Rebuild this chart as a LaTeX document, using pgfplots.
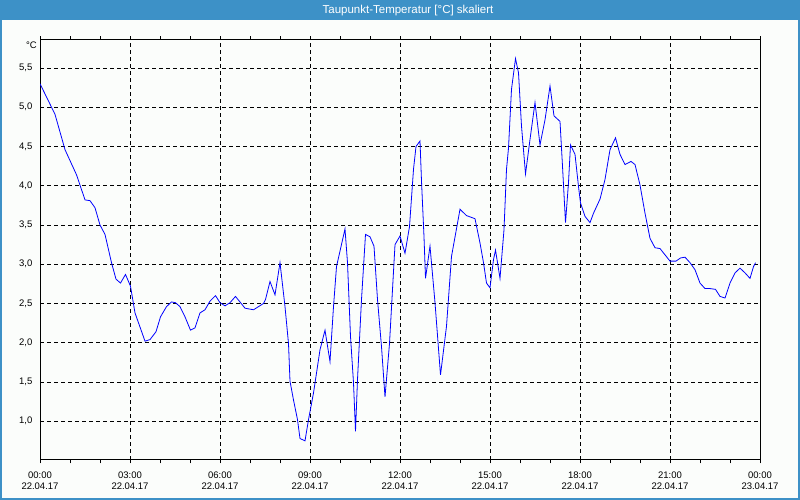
\documentclass[border=0pt]{standalone}
\usepackage{fontspec}
\setmainfont{Liberation Sans}
\usepackage{pgfplots}
\pgfplotsset{compat=1.18}
\definecolor{barblue}{RGB}{61,145,199}
\definecolor{bgwhite}{RGB}{251,253,251}
\begin{document}
\begin{tikzpicture}[x=1pt,y=1pt]
\useasboundingbox (-40,-40) rectangle (760,460);
\fill[bgwhite] (-40,-40) rectangle (760,460);
\fill[barblue] (-40,440) rectangle (760,460);
\draw[barblue, line width=2pt] (-39,-39) rectangle (759,459);
\node[white, font=\fontsize{11.5}{13}\selectfont] at (368,449) {Taupunkt-Temperatur [°C] skaliert};
\node[anchor=east, inner sep=0pt, font=\fontsize{9.5}{12}\selectfont] at (-3,415) {°C};
\begin{axis}[
    at={(0,0)}, anchor=south west,
    scale only axis, width=720pt, height=420pt,
    xmin=0, xmax=1440, ymin=0.506, ymax=5.857,
    xtick={0,180,360,540,720,900,1080,1260,1440},
    minor x tick num=2,
    xticklabels={{00:00\\[-4pt]22.04.17},{03:00\\[-4pt]22.04.17},{06:00\\[-4pt]22.04.17},{09:00\\[-4pt]22.04.17},{12:00\\[-4pt]22.04.17},{15:00\\[-4pt]22.04.17},{18:00\\[-4pt]22.04.17},{21:00\\[-4pt]22.04.17},{00:00\\[-4pt]23.04.17}},
    ytick={1,1.5,2,2.5,3,3.5,4,4.5,5,5.5},
    grid=major,
    major grid style={black, line width=0.8pt, dash pattern=on 4pt off 3pt},
    axis line style={black, line width=1pt},
    tick align=outside,
    major tick length=3.5pt, minor tick length=3.5pt,
    xtick style={black, line width=0.8pt},
    ytick style={draw=none},
    tick label style={font=\fontsize{9.5}{15}\selectfont},
    xticklabel style={align=center, anchor=north, inner sep=0pt, yshift=-8pt},
    yticklabel style={anchor=east, inner sep=0pt, xshift=-4pt},
    /pgf/number format/.cd, use comma, fixed, fixed zerofill, precision=1, assume math mode=true,
]
\addplot[color=blue, line width=0.8pt] coordinates {
(0,5.30) (30,4.91) (50,4.46) (73,4.14) (90,3.82) (100,3.81) (110,3.72) (120,3.50)
(130,3.38) (143,3.02) (152,2.81) (161,2.76) (171,2.87) (181,2.72) (190,2.38) (210,2.02)
(220,2.04) (232,2.14) (241,2.33) (253,2.46) (263,2.52) (271,2.51) (280,2.46) (290,2.33)
(301,2.16) (310,2.19) (320,2.38) (330,2.42) (340,2.53) (351,2.60) (360,2.51) (370,2.47)
(380,2.51) (391,2.59) (410,2.44) (427,2.42) (447,2.50) (451,2.55) (460,2.78) (470,2.61)
(480,3.02) (490,2.46) (497,1.99) (500,1.51) (507,1.27) (515,1.02) (520,0.78) (530,0.75)
(537,1.02) (547,1.36) (560,1.91) (570,2.16) (580,1.76) (587,2.46) (593,2.97) (610,3.45)
(615,3.02) (621,2.08) (627,1.49) (631,0.87) (635,1.53) (643,2.55) (651,3.38) (660,3.35)
(668,3.23) (675,2.55) (683,1.95) (690,1.31) (699,1.99) (710,3.25) (720,3.36) (730,3.14)
(739,3.48) (747,4.21) (752,4.50) (760,4.57) (763,4.06) (768,3.35) (771,2.82) (780,3.23)
(790,2.51) (801,1.59) (813,2.21) (823,3.10) (840,3.70) (853,3.62) (870,3.58) (880,3.27)
(887,3.02) (893,2.76) (900,2.70) (907,3.06) (911,3.18) (920,2.82) (928,3.44) (933,4.21)
(937,4.48) (943,5.23) (951,5.62) (957,5.44) (963,4.76) (971,4.15) (980,4.59) (990,5.06)
(1000,4.52) (1010,4.84) (1020,5.27) (1028,4.89) (1040,4.82) (1045,4.25) (1051,3.53) (1057,4.04)
(1061,4.52) (1070,4.40) (1077,3.99) (1081,3.78) (1090,3.61) (1100,3.53) (1107,3.65) (1120,3.83)
(1130,4.08) (1140,4.46) (1151,4.61) (1160,4.40) (1170,4.27) (1182,4.31) (1190,4.27) (1200,4.01)
(1210,3.65) (1220,3.33) (1230,3.21) (1240,3.20) (1250,3.12) (1260,3.04) (1272,3.04) (1281,3.08)
(1290,3.09) (1300,3.02) (1310,2.93) (1320,2.76) (1330,2.69) (1340,2.69) (1351,2.68) (1360,2.59)
(1370,2.57) (1380,2.76) (1390,2.89) (1400,2.95) (1410,2.89) (1420,2.82) (1427,2.97) (1431,3.02)
};
\end{axis}
\end{tikzpicture}
\end{document}
